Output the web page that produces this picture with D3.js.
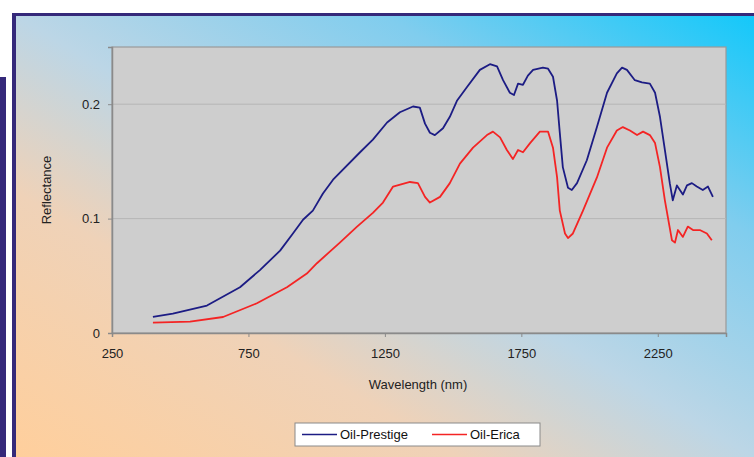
<!DOCTYPE html>
<html>
<head>
<meta charset="utf-8">
<script src="https://cdn.jsdelivr.net/npm/d3@7/dist/d3.min.js"></script>
<style>
  body { margin: 0; background: #fff; }
  svg { display: block; font-family: "Liberation Sans", Arial, sans-serif; }
</style>
</head>
<body>
<svg id="chart" width="754" height="457"></svg>
<script>
// wavelength (nm) / reflectance pairs
const prestigeNm = [400, 473, 598, 719, 792, 866, 913, 950, 986, 1023, 1060, 1159, 1206, 1258, 1305, 1353, 1378, 1397, 1415, 1433, 1463, 1488, 1514, 1551, 1598, 1635, 1661, 1683, 1708, 1723, 1738, 1756, 1774, 1793, 1829, 1848, 1866, 1881, 1891, 1902, 1921, 1935, 1954, 1990, 2027, 2064, 2100, 2119, 2137, 2166, 2192, 2221, 2240, 2258, 2276, 2294, 2305, 2320, 2331, 2342, 2357, 2375, 2393, 2415, 2434, 2452];
const prestigeVal = [0.014, 0.017, 0.024, 0.040, 0.055, 0.072, 0.087, 0.099, 0.107, 0.122, 0.134, 0.158, 0.169, 0.184, 0.193, 0.198, 0.197, 0.183, 0.175, 0.173, 0.179, 0.189, 0.203, 0.215, 0.230, 0.235, 0.233, 0.221, 0.210, 0.208, 0.218, 0.217, 0.225, 0.230, 0.232, 0.231, 0.224, 0.203, 0.175, 0.145, 0.127, 0.125, 0.131, 0.151, 0.180, 0.210, 0.227, 0.232, 0.230, 0.221, 0.219, 0.218, 0.210, 0.189, 0.160, 0.131, 0.116, 0.129, 0.125, 0.121, 0.129, 0.131, 0.128, 0.125, 0.128, 0.119];

const ericaNm = [400, 536, 657, 781, 891, 964, 1001, 1085, 1148, 1206, 1243, 1280, 1342, 1371, 1397, 1415, 1452, 1488, 1525, 1573, 1624, 1646, 1672, 1697, 1719, 1738, 1756, 1782, 1818, 1848, 1866, 1881, 1891, 1910, 1921, 1939, 1976, 2027, 2064, 2100, 2122, 2148, 2174, 2196, 2221, 2240, 2258, 2276, 2302, 2313, 2324, 2342, 2360, 2379, 2404, 2430, 2448];
const ericaVal = [0.009, 0.010, 0.014, 0.026, 0.040, 0.052, 0.061, 0.079, 0.093, 0.105, 0.114, 0.128, 0.132, 0.131, 0.119, 0.114, 0.119, 0.131, 0.148, 0.162, 0.173, 0.176, 0.171, 0.160, 0.152, 0.160, 0.158, 0.166, 0.176, 0.176, 0.162, 0.136, 0.107, 0.087, 0.083, 0.087, 0.107, 0.136, 0.162, 0.177, 0.180, 0.177, 0.173, 0.176, 0.173, 0.166, 0.145, 0.116, 0.081, 0.079, 0.090, 0.084, 0.093, 0.090, 0.090, 0.087, 0.081];

const xTicks = [250, 750, 1250, 1750, 2250];
const yTicks = [0, 0.1, 0.2];
const yTickLabels = ['0', '0.1', '0.2'];
const seriesNames = ['Oil-Prestige', 'Oil-Erica'];
const seriesColors = ['#1c1c84', '#f42424'];

const svg = d3.select('#chart');
const margin = { top: 47, left: 112, right: 28, bottom: 124 };
const width = 754 - margin.left - margin.right;
const height = 457 - margin.top - margin.bottom;

// slide background
const defs = svg.append('defs');
const grad = defs.append('linearGradient')
    .attr('id', 'bg')
    .attr('x1', 0).attr('y1', 1)
    .attr('x2', 1).attr('y2', 0);
grad.append('stop').attr('offset', 0).attr('stop-color', '#ffcf9c');
grad.append('stop').attr('offset', 0.3).attr('stop-color', '#efd2b8');
grad.append('stop').attr('offset', 0.5).attr('stop-color', '#bcd6e6');
grad.append('stop').attr('offset', 0.75).attr('stop-color', '#80cdee');
grad.append('stop').attr('offset', 1).attr('stop-color', '#14c8fa');

svg.append('rect').attr('x', 0).attr('y', 77).attr('width', 6).attr('height', 380).attr('fill', '#35297a');
svg.append('rect').attr('x', 12).attr('y', 13).attr('width', 742).attr('height', 444).attr('fill', '#35297a');
svg.append('rect').attr('x', 16).attr('y', 16).attr('width', 738).attr('height', 441).attr('fill', 'url(#bg)');

const x = d3.scaleLinear().domain([250, 2500]).range([0, width]);
const y = d3.scaleLinear().domain([0, 0.25]).range([height, 0]);

const g = svg.append('g').attr('transform', `translate(${margin.left},${margin.top})`);

g.append('rect')
    .attr('width', width)
    .attr('height', height)
    .attr('fill', '#cecece')
    .attr('stroke', '#9a9a9a')
    .attr('stroke-width', 1.2);

// gridlines
g.append('g')
  .selectAll('line')
  .data(yTicks.slice(1))
  .join('line')
    .attr('x1', 0)
    .attr('x2', width)
    .attr('y1', d => y(d))
    .attr('y2', d => y(d))
    .attr('stroke', '#b6b6b6')
    .attr('stroke-width', 1);

const xAxis = g.append('g')
    .attr('transform', `translate(0,${height})`)
    .call(d3.axisBottom(x).tickValues(xTicks).tickSize(4).tickPadding(12).tickFormat(d3.format('d')));

const yAxis = g.append('g')
    .call(d3.axisLeft(y).tickValues(yTicks).tickSize(4).tickPadding(8).tickFormat((d, i) => yTickLabels[i]));

[xAxis, yAxis].forEach(a => {
  a.select('.domain').attr('stroke', '#8a8a8a').attr('stroke-width', 1.5);
  a.selectAll('.tick line').attr('stroke', '#8a8a8a');
  a.selectAll('.tick text')
      .attr('fill', '#222')
      .style('font-size', '13px')
      .style('font-family', '"Liberation Sans", Arial, sans-serif');
});

const line = d3.line()
    .x(d => x(d[0]))
    .y(d => y(d[1]));

const series = [
  d3.zip(prestigeNm, prestigeVal),
  d3.zip(ericaNm, ericaVal),
];

g.selectAll('.series')
  .data(series)
  .join('path')
    .attr('class', 'series')
    .attr('fill', 'none')
    .attr('stroke', (d, i) => seriesColors[i])
    .attr('stroke-width', 1.8)
    .attr('stroke-linejoin', 'round')
    .attr('d', line);

// axis titles
svg.append('text')
    .attr('transform', 'translate(51,190) rotate(-90)')
    .attr('text-anchor', 'middle')
    .attr('fill', '#222')
    .style('font-size', '13px')
    .text('Reflectance');

svg.append('text')
    .attr('x', 418)
    .attr('y', 389)
    .attr('text-anchor', 'middle')
    .attr('fill', '#222')
    .style('font-size', '13px')
    .text('Wavelength (nm)');

// legend
const legend = svg.append('g').attr('transform', 'translate(295,423)');
legend.append('rect')
    .attr('width', 245)
    .attr('height', 23)
    .attr('fill', '#fff')
    .attr('stroke', '#8a8a8a');

const items = legend.selectAll('.item')
  .data(seriesNames)
  .join('g')
    .attr('class', 'item')
    .attr('transform', (d, i) => `translate(${i === 0 ? 7 : 137},0)`);

items.append('line')
    .attr('x1', 0).attr('x2', 35)
    .attr('y1', 11.5).attr('y2', 11.5)
    .attr('stroke', (d, i) => seriesColors[i])
    .attr('stroke-width', 1.6);

items.append('text')
    .attr('x', 38)
    .attr('y', 16)
    .attr('fill', '#111')
    .style('font-size', '13px')
    .text(d => d);
</script>
</body>
</html>
